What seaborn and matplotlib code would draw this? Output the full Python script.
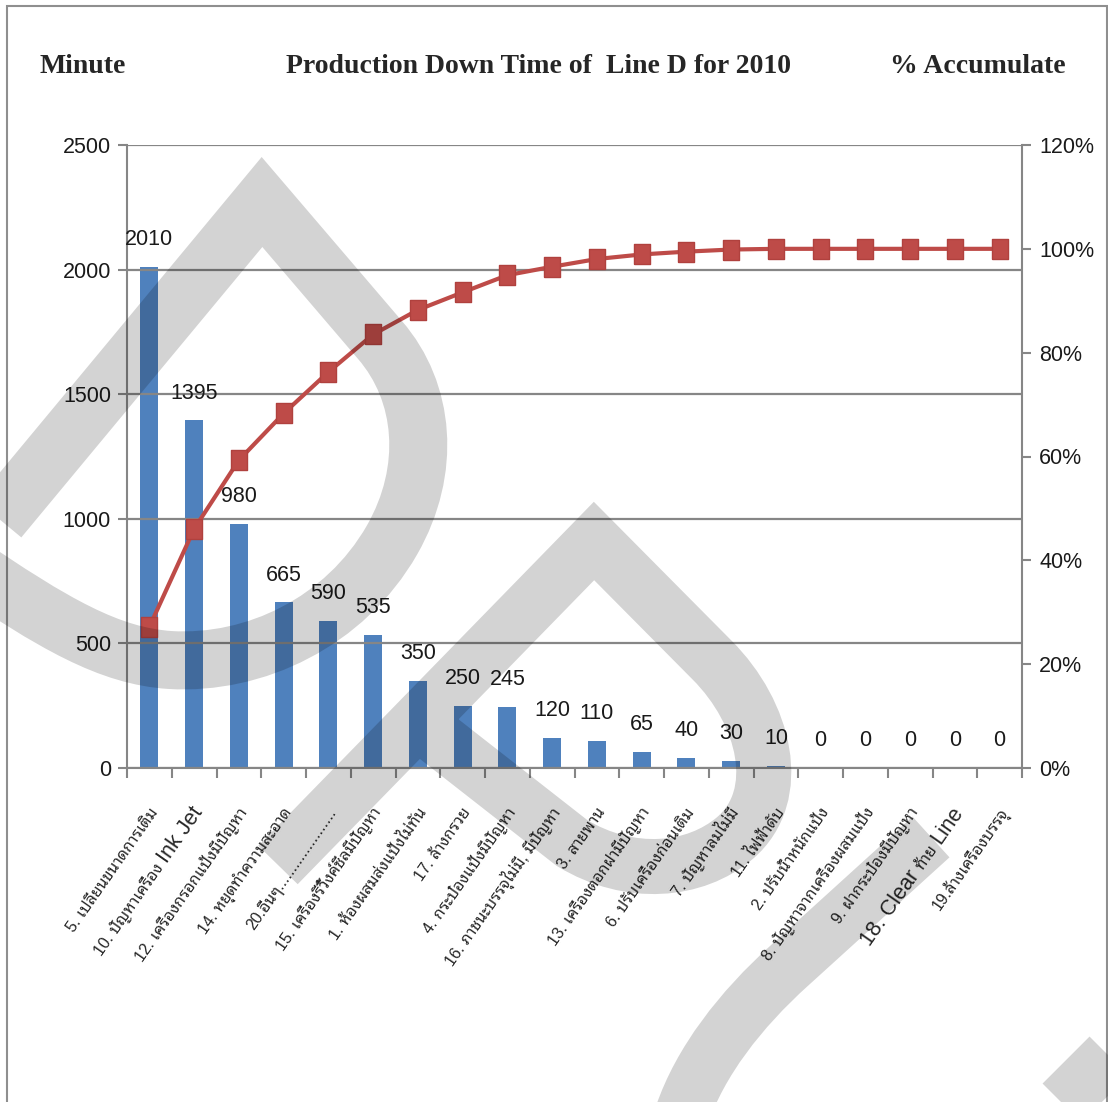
import numpy as np
import pandas as pd
import matplotlib
matplotlib.use("Agg")
import matplotlib.pyplot as plt
from matplotlib import font_manager
from matplotlib.ft2font import FT2Font
from matplotlib.path import Path
from matplotlib.patches import PathPatch, Rectangle
from matplotlib.ticker import FixedLocator, FuncFormatter
import seaborn as sns

# ---------------------------------------------------------------- data
causes = [
    "5. เปลี่ยนขนาดการเติม",
    "10. ปัญหาเครื่อง Ink Jet",
    "12. เครื่องกรอกแป้งมีปัญหา",
    "14. หยุดทำความสะอาด",
    "20.อื่นๆ.....................",
    "15. เครื่องรีวิ้งค์ซีลมีปัญหา",
    "1. ห้องผสมส่งแป้งไม่ทัน",
    "17. ล้างกรวย",
    "4. กระป๋องแป้งมีปัญหา",
    "16. ภาชนะบรรจุไม่มี, มีปัญหา",
    "3. สายพาน",
    "13. เครื่องตอกฝามีปัญหา",
    "6. ปรับเครื่องก่อนเติม",
    "7. ปัญหาลมไม่มี",
    "11. ไฟฟ้าดับ",
    "2. ปรับน้ำหนักแป้ง",
    "8. ปัญหาจากเครื่องผสมแป้ง",
    "9. ฝากระป๋องมีปัญหา",
    "18. Clear ท้าย Line",
    "19.ล้างเครื่องบรรจุ",
]
minutes = [2010, 1395, 980, 665, 590, 535, 350, 250, 245, 120,
           110, 65, 40, 30, 10, 0, 0, 0, 0, 0]
minute_ticks = [0, 500, 1000, 1500, 2000, 2500]
percent_ticks = [0, 20, 40, 60, 80, 100, 120]

title_left = "Minute"
title_center = "Production Down Time of  Line D for 2010"
title_right = "% Accumulate"

# ---------------------------------------------------------------- fonts
def font_covering(codepoints, prefer=()):
    found = []
    seen = set()
    for entry in font_manager.fontManager.ttflist:
        if entry.name in seen:
            continue
        try:
            cmap = FT2Font(entry.fname).get_charmap()
        except Exception:
            continue
        if all(c in cmap for c in codepoints):
            found.append(entry.name)
            seen.add(entry.name)
    for p in prefer:
        for n in found:
            if p.lower() in n.lower():
                return n
    return found[0] if found else None

installed = {f.name for f in font_manager.fontManager.ttflist}
thai_font = font_covering([0x0E01, 0x0E40, 0x0E49],
                          prefer=("Noto Sans Thai", "Sarabun", "Loma", "Garuda",
                                  "Tlwg", "Waree", "Norasi", "Thai"))
narrow = "Liberation Sans Narrow" if "Liberation Sans Narrow" in installed else "Liberation Sans"
num_size = 17 if narrow.endswith("Narrow") else 15.5

sns.set_theme(style="white")
fam = [narrow] + ([thai_font] if thai_font else []) + ["DejaVu Sans"]
plt.rcParams["font.family"] = fam

# ---------------------------------------------------------------- figure
W, H = 1108, 1102
fig = plt.figure(figsize=(W / 100, H / 100), dpi=100)
fig.patch.set_facecolor("white")

L, R, T, B = 127, 1022, 145, 768
ax = fig.add_axes([L / W, 1 - B / H, (R - L) / W, (B - T) / H])

df = pd.DataFrame({"cause": causes, "minutes": minutes})
sns.barplot(data=df, x="cause", y="minutes", color="#4F81BD", saturation=1,
            width=0.4, linewidth=0, ax=ax)

grey = "#868686"
ax.set_ylim(0, 2500)
ax.set_xlim(-0.5, len(causes) - 0.5)
ax.set_xlabel("")
ax.set_ylabel("")
ax.yaxis.set_major_locator(FixedLocator(minute_ticks))
ax.yaxis.grid(True, color=grey, linewidth=1.6)
ax.set_axisbelow(False)
for side in ["left", "bottom"]:
    ax.spines[side].set_color(grey)
    ax.spines[side].set_linewidth(1.5)
ax.spines["top"].set_visible(False)
ax.spines["right"].set_visible(False)
ax.tick_params(axis="y", which="major", left=True, length=6.5, width=1.5,
               color=grey, pad=5, labelsize=num_size, labelcolor="#1a1a1a")
ax.set_xticks(range(len(causes)))
ax.set_xticklabels([""] * len(causes))
ax.tick_params(axis="x", which="major", length=0)
ax.xaxis.set_minor_locator(FixedLocator(np.arange(-0.5, len(causes), 1.0)))
ax.tick_params(axis="x", which="minor", bottom=True, length=7, width=1.5, color=grey)

ax.bar_label(ax.containers[0], labels=[str(v) for v in minutes], padding=12,
             fontsize=num_size, color="#1a1a1a")

# cumulative share on the secondary axis
cum_pct = np.cumsum(minutes) / np.sum(minutes) * 100
ax2 = ax.twinx()
tall_square = [(-0.8, -1), (0.8, -1), (0.8, 1), (-0.8, 1), (-0.8, -1)]
sns.lineplot(x=np.arange(len(causes)), y=cum_pct, ax=ax2, color="#BE4B48",
             linewidth=3, marker=tall_square, markersize=15,
             markeredgecolor="#B0413E", markeredgewidth=1)
ax2.set_ylim(0, 120)
ax2.yaxis.set_major_locator(FixedLocator(percent_ticks))
ax2.yaxis.set_major_formatter(FuncFormatter(lambda v, p: f"{v:.0f}%"))
ax2.set_ylabel("")
for side in ["left", "bottom", "top"]:
    ax2.spines[side].set_visible(False)
ax2.spines["right"].set_color(grey)
ax2.spines["right"].set_linewidth(1.5)
ax2.tick_params(axis="y", right=True, length=6.5, width=1.5, color=grey,
                pad=6, labelsize=num_size, labelcolor="#1a1a1a")
ax2.grid(False)

# ---------------------------------------------------------------- category labels
ROT = 55
u = np.array([np.cos(np.radians(ROT)), np.sin(np.radians(ROT))])
renderer = fig.canvas.get_renderer()


def split_runs(label):
    words = label.split(" ")
    runs = []
    for k, w in enumerate(words):
        latin = any(c.isascii() and c.isalpha() for c in w)
        nxt_latin = k + 1 < len(words) and any(c.isascii() and c.isalpha() for c in words[k + 1])
        big = latin or (k == 0 and w.rstrip(".").isdigit() and nxt_latin)
        size = 15.5 if big else 11.5
        if runs and runs[-1][1] == size:
            runs[-1][0] += " " + w
        else:
            runs.append([w, size])
    return runs


def text_width(s, size):
    t = fig.text(0, 0, s, fontsize=size)
    w = t.get_window_extent(renderer).width
    t.remove()
    return w


xt = ax.get_xaxis_transform()
base = np.array([9.0, -44.0])
for i, label in enumerate(causes):
    runs = split_runs(label)
    offset = 0.0
    for text, size in reversed(runs):
        pos = base - offset * u
        ax.annotate(text, xy=(i, 0), xycoords=xt, xytext=tuple(pos),
                    textcoords="offset pixels", rotation=ROT,
                    rotation_mode="anchor", ha="right", va="baseline",
                    fontsize=size, color="#262626", annotation_clip=False)
        offset += text_width(text, size) + 5

# ---------------------------------------------------------------- headings
serif = "Liberation Serif"
fig.text(40 / W, 1 - 73 / H, title_left, fontsize=20, fontweight="bold",
         family=serif, ha="left", va="baseline")
fig.text(539 / W, 1 - 73 / H, title_center, fontsize=20, fontweight="bold",
         family=serif, ha="center", va="baseline")
fig.text(1066 / W, 1 - 73 / H, title_right, fontsize=20, fontweight="bold",
         family=serif, ha="right", va="baseline")

# frame around the chart
fig.add_artist(Rectangle((7 / W, -0.02), (1107 - 7) / W, 1 - 6 / H + 0.02,
                         transform=fig.transFigure, fill=False,
                         edgecolor="#8f8f8f", linewidth=1.5, zorder=20))

# ---------------------------------------------------------------- watermark strokes
wm = fig.add_axes([0, 0, 1, 1], zorder=30)
wm.set_xlim(0, W)
wm.set_ylim(H, 0)
wm.axis("off")
wm.patch.set_alpha(0)

M, Ln, C = Path.MOVETO, Path.LINETO, Path.CURVE4
strokes = [
    ([(-60, 590), (262, 202), (380, 340),
      (425, 392), (432, 470), (392, 540),
      (345, 622), (255, 665), (170, 660),
      (110, 656), (55, 625), (-40, 560)],
     [M, Ln, Ln, C, C, C, C, C, C, C, C, C], 58),
    ([(278, 865), (594, 541), (712, 660),
      (765, 713), (785, 795), (735, 838),
      (695, 872), (630, 878), (572, 843),
      (425, 728)],
     [M, Ln, Ln, C, C, C, C, C, C, Ln], 55),
    ([(931, 837), (790, 965), (740, 1010), (700, 1062), (682, 1115)],
     [M, Ln, C, C, C], 55),
    ([(1040, 1125), (1135, 1030)], [M, Ln], 55),
]
for verts, codes, width_px in strokes:
    wm.add_patch(PathPatch(Path(verts, codes), fill=False, edgecolor="black",
                           alpha=0.173, linewidth=width_px * 0.72,
                           joinstyle="miter", capstyle="butt"))

fig.savefig("out.png", dpi=100, facecolor="white")
